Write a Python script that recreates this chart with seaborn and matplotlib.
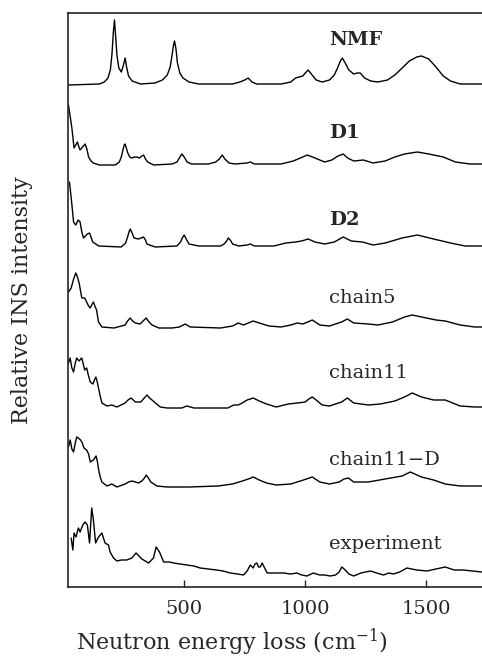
import matplotlib
matplotlib.use("Agg")
import matplotlib.pyplot as plt
import seaborn as sns
import pandas as pd

# spectra: energy (cm-1) and height above each trace's baseline
nmf_x = [20, 150, 170, 185, 195, 202, 207, 212, 217, 222, 230, 240, 248, 256, 262, 270, 285, 320, 380, 410,
         430, 442, 450, 455, 460, 466, 472, 482, 495, 520, 560, 700, 730, 750, 764, 780, 800, 900, 940, 960,
         975, 990, 1000, 1012, 1025, 1045, 1070, 1100, 1120, 1135, 1145, 1153, 1165, 1180, 1200, 1215, 1227,
         1245, 1270, 1300, 1340, 1370, 1400, 1430, 1460, 1480, 1510, 1540, 1570, 1600, 1640, 1730]
nmf_y = [0, 1, 3, 7, 15, 32, 52, 65, 48, 30, 17, 13, 19, 27, 18, 9, 4, 1, 2, 5,
         10, 18, 30, 39, 44, 36, 22, 12, 7, 3, 1, 1, 3, 5, 7, 3, 1, 1, 3, 7,
         8, 9, 12, 15, 11, 5, 3, 5, 10, 18, 24, 27, 22, 15, 11, 12, 12,
         7, 4, 3, 5, 10, 17, 24, 28, 29, 26, 18, 9, 4, 1, 1]

d1_x = [22, 36, 45, 52, 59, 65, 70, 80, 91, 98, 105, 115, 124, 150, 215, 232, 240, 246, 252, 256, 261, 267,
        275, 284, 295, 304, 315, 325, 332, 340, 349, 374, 450, 470, 480, 490, 500, 512, 530, 600, 630, 645,
        657, 668, 685, 710, 760, 773, 790, 900, 950, 980, 1008, 1030, 1050, 1080, 1110, 1135, 1157, 1175,
        1200, 1240, 1280, 1330, 1370, 1410, 1463, 1510, 1570, 1620, 1680, 1730]
d1_y = [60, 37, 17, 20, 23, 18, 15, 18, 21, 16, 8, 4, 2, 0, 0, 3, 8, 14, 20, 21, 17, 12,
        8, 7, 8, 8, 7, 9, 10, 6, 3, 0, 1, 3, 7, 11, 8, 3, 1, 1, 3, 6,
        10, 6, 2, 1, 2, 3, 1, 1, 4, 7, 10, 8, 6, 3, 5, 9, 11, 7,
        4, 5, 2, 4, 8, 11, 13, 11, 8, 3, 1, 1]

d2_x = [26, 35, 43, 52, 62, 70, 77, 84, 92, 100, 109, 115, 122, 147, 240, 258, 266, 272, 277, 283, 293,
        310, 322, 332, 340, 346, 380, 470, 485, 492, 500, 508, 520, 560, 650, 665, 675, 682, 690, 700, 725,
        760, 773, 790, 870, 920, 960, 985, 1012, 1040, 1080, 1120, 1157, 1190, 1236, 1280, 1330, 1400,
        1463, 1530, 1600, 1660, 1730]
d2_y = [65, 45, 25, 22, 27, 25, 15, 9, 11, 13, 14, 10, 5, 1, 0, 4, 10, 15, 18, 15, 9,
        8, 9, 10, 7, 3, 0, 1, 5, 9, 12, 8, 3, 1, 1, 3, 6, 9, 7, 3, 1,
        2, 3, 1, 1, 4, 5, 6, 8, 5, 3, 5, 10, 6, 5, 2, 4, 9,
        12, 8, 4, 1, 1]

c5_x = [22, 33, 42, 52, 59, 66, 77, 89, 97, 105, 112, 118, 125, 131, 138, 146, 160, 210, 256, 266, 277, 287,
        298, 318, 330, 343, 355, 367, 395, 450, 480, 504, 525, 650, 700, 723, 745, 765, 785, 810, 850, 900,
        940, 967, 990, 1010, 1029, 1060, 1100, 1150, 1174, 1200, 1260, 1300, 1360, 1410, 1442, 1500, 1540,
        1578, 1640, 1700, 1730]
c5_y = [36, 40, 48, 55, 51, 45, 30, 30, 26, 22, 20, 23, 26, 22, 18, 6, 1, 0, 3, 7, 10, 7,
        5, 4, 7, 10, 6, 3, 0, 0, 1, 4, 1, 0, 2, 5, 3, 5, 7, 5, 2, 1,
        3, 5, 4, 6, 8, 3, 2, 6, 9, 5, 4, 3, 6, 11, 13, 10, 8,
        7, 3, 1, 1]

c11_x = [22, 29, 36, 43, 50, 56, 62, 67, 72, 77, 83, 89, 97, 105, 112, 123, 129, 135, 140, 146, 153, 160,
         181, 201, 222, 256, 268, 280, 290, 298, 321, 335, 346, 357, 367, 381, 401, 429, 490, 511, 540, 680,
         705, 723, 740, 760, 785, 810, 840, 880, 930, 967, 1000, 1015, 1029, 1050, 1070, 1100, 1150, 1174,
         1200, 1260, 1310, 1370, 1410, 1442, 1480, 1530, 1578, 1640, 1700, 1730]
c11_y = [45, 50, 40, 36, 45, 50, 48, 47, 49, 50, 44, 38, 40, 32, 26, 24, 28, 31, 27, 20, 12, 5,
         2, 3, 1, 5, 8, 10, 8, 6, 6, 10, 13, 10, 8, 5, 1, 0, 0, 2, 0, 0,
         3, 3, 5, 8, 10, 7, 4, 1, 4, 5, 6, 9, 11, 7, 3, 2, 6, 10,
         5, 3, 4, 7, 11, 15, 11, 8, 8, 2, 1, 1]

c11d_x = [22, 29, 36, 43, 50, 56, 62, 72, 79, 86, 97, 105, 112, 118, 125, 136, 141, 146, 153, 160, 181,
          201, 222, 256, 270, 284, 298, 311, 325, 336, 343, 352, 362, 387, 430, 520, 640, 700, 740, 765,
          785, 810, 840, 880, 940, 980, 1005, 1029, 1060, 1100, 1140, 1160, 1178, 1200, 1260, 1330, 1400,
          1434, 1480, 1530, 1578, 1640, 1730]
c11d_y = [40, 47, 38, 35, 44, 50, 49, 47, 44, 39, 37, 33, 25, 26, 27, 31, 26, 18, 10, 5, 1,
          3, 0, 3, 5, 6, 5, 4, 6, 9, 12, 9, 5, 1, 0, 0, 1, 3, 6, 8,
          10, 7, 4, 2, 3, 6, 8, 10, 5, 3, 5, 8, 9, 5, 5, 8, 11,
          15, 10, 7, 3, 1, 1]

exp_x = [33, 40, 45, 53, 63, 70, 81, 91, 100, 109, 118, 125, 134, 146, 160, 173, 187, 194, 208, 222, 240,
         263, 284, 301, 325, 353, 373, 384, 398, 415, 440, 456, 483, 511, 540, 566, 600, 634, 660, 690, 720,
         745, 760, 773, 785, 792, 800, 807, 814, 822, 832, 843, 870, 910, 940, 965, 985, 1007, 1033, 1060,
         1080, 1103, 1125, 1140, 1151, 1165, 1180, 1200, 1230, 1269, 1295, 1323, 1345, 1364, 1390, 1420,
         1460, 1503, 1540, 1578, 1615, 1653, 1690, 1730]
exp_y = [49, 37, 54, 50, 59, 55, 62, 65, 62, 44, 79, 67, 44, 50, 54, 44, 42, 35, 29, 26, 27,
         27, 29, 34, 28, 24, 29, 40, 35, 25, 25, 24, 23, 22, 21, 19, 18, 17, 16, 14, 13,
         12, 16, 22, 19, 23, 24, 20, 20, 24, 19, 14, 14, 14, 13, 14, 12, 11, 14, 12,
         12, 11, 12, 15, 20, 17, 13, 11, 14, 16, 14, 12, 14, 13, 15, 19,
         17, 16, 18, 20, 17, 17, 16, 15]

names = ["NMF", "D1", "D2", "chain5", "chain11", "chain11\u2212D", "experiment"]
xs = [nmf_x, d1_x, d2_x, c5_x, c11_x, c11d_x, exp_x]
ys = [nmf_y, d1_y, d2_y, c5_y, c11_y, c11d_y, exp_y]
offsets = [502, 422, 340, 259, 179, 100, 0]
label_y = [542, 449, 362, 284, 209, 122, 38]

sns.set_style("ticks")
plt.rcParams['font.family'] = ['DejaVu Serif']
plt.rcParams['mathtext.fontset'] = 'dejavuserif'

fig = plt.figure(figsize=(4.82, 6.58), dpi=100)
ax = fig.add_axes([68 / 482, 1 - 587 / 658, 1 - 68 / 482, 574 / 658])

for name, x, y, off in zip(names, xs, ys, offsets):
    df = pd.DataFrame({"E": x, "I": [v + off for v in y]})
    sns.lineplot(data=df, x="E", y="I", ax=ax, color="black", linewidth=1.0,
                 estimator=None, sort=False)

for name, ly in zip(names, label_y):
    bold = name in ("NMF", "D1", "D2")
    ax.text(1100, ly, name, fontsize=14, ha="left", va="baseline",
            fontweight="bold" if bold else "normal")

ax.set_xlim(20, 1730)
ax.set_ylim(0, 574)
ax.set_xticks([500, 1000, 1500])
ax.set_yticks([])
ax.tick_params(axis="x", direction="in", length=5, width=1, labelsize=14, pad=9)
ax.spines["right"].set_visible(False)
for s in ("left", "top", "bottom"):
    ax.spines[s].set_linewidth(1.2)

ax.set_xlabel("Neutron energy loss (cm$^{-1}$)", fontsize=16)
ax.xaxis.set_label_coords((232 - 68) / 414, -40 / 574)
ax.set_ylabel("Relative INS intensity", fontsize=16)
ax.yaxis.set_label_coords(-35 / 414, 0.5)

fig.savefig("out.png", dpi=100)
